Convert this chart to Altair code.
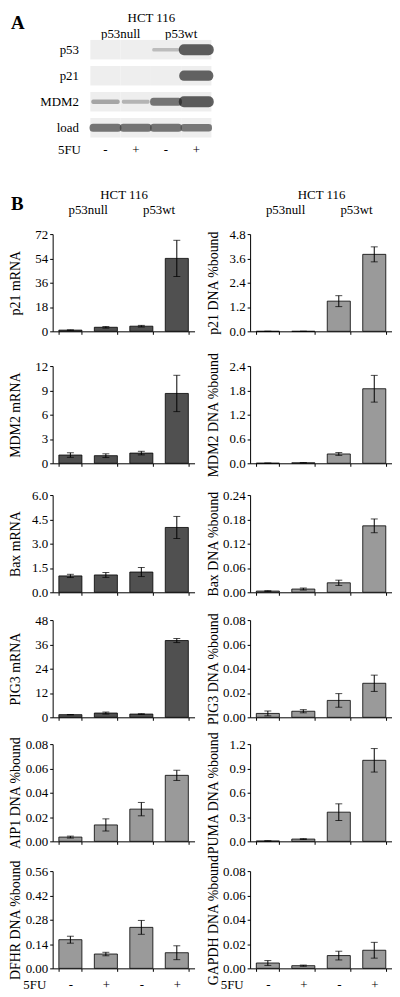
import altair as alt
import pandas as pd

FONT = "Liberation Serif"

# ---------------- Panel A (western blot) ----------------
lanes = ["p53null -", "p53null +", "p53wt -", "p53wt +"]
groups = ["p53null", "p53wt"]
blot_rows = ["p53", "p21", "MDM2", "load"]
p53_band = [0.0, 0.0, 0.25, 0.95]
p21_band = [0.0, 0.0, 0.0, 0.9]
mdm2_band = [0.4, 0.3, 0.75, 0.95]
load_band = [0.75, 0.75, 0.75, 0.72]

# ---------------- Panel B (bar charts) ----------------
p21_mrna = [0.9, 3.0, 3.8, 54.0]
p21_mrna_err = [0.2, 0.6, 0.6, 13.4]
p21_dna = [0.0, 0.0, 1.49, 3.80]
p21_dna_err = [0.0, 0.0, 0.27, 0.37]
mdm2_mrna = [1.02, 0.94, 1.26, 8.62]
mdm2_mrna_err = [0.28, 0.23, 0.22, 2.24]
mdm2_dna = [0.003, 0.012, 0.23, 1.84]
mdm2_dna_err = [0.001, 0.004, 0.035, 0.33]
bax_mrna = [1.01, 1.07, 1.25, 4.0]
bax_mrna_err = [0.10, 0.15, 0.28, 0.68]
bax_dna = [0.003, 0.008, 0.0234, 0.164]
bax_dna_err = [0.001, 0.0025, 0.0065, 0.017]
pig3_mrna = [1.3, 2.1, 1.6, 37.9]
pig3_mrna_err = [0.1, 0.5, 0.2, 1.0]
pig3_dna = [0.0032, 0.005, 0.0139, 0.028]
pig3_dna_err = [0.002, 0.0013, 0.0056, 0.0067]
aip1_dna = [0.0035, 0.0135, 0.0265, 0.0543]
aip1_dna_err = [0.0008, 0.005, 0.0055, 0.0042]
puma_dna = [0.005, 0.028, 0.36, 1.0]
puma_dna_err = [0.002, 0.005, 0.103, 0.145]
dfhr_dna = [0.165, 0.0825, 0.236, 0.09]
dfhr_dna_err = [0.02, 0.01, 0.04, 0.04]
gapdh_dna = [0.0044, 0.0022, 0.0105, 0.0149]
gapdh_dna_err = [0.002, 0.0005, 0.0036, 0.0065]

ticks_p21_mrna = [0, 18, 36, 54, 72]
ticks_p21_dna = [0, 1.2, 2.4, 3.6, 4.8]
ticks_mdm2_mrna = [0, 3, 6, 9, 12]
ticks_mdm2_dna = [0, 0.6, 1.2, 1.8, 2.4]
ticks_bax_mrna = [0, 1.5, 3.0, 4.5, 6.0]
ticks_bax_dna = [0, 0.06, 0.12, 0.18, 0.24]
ticks_pig3_mrna = [0, 12, 24, 36, 48]
ticks_small = [0, 0.02, 0.04, 0.06, 0.08]
ticks_puma = [0, 0.3, 0.6, 0.9, 1.2]
ticks_dfhr = [0, 0.14, 0.28, 0.42, 0.56]

DARK = "#505050"
LIGHT = "#9a9a9a"
W = 143
H = 98
ROW_EXTRA = [8, 5, 1, 0, 3, 0]   # extra blank space below each row of plots

panels = [
    ("p21 mRNA", p21_mrna, p21_mrna_err, ticks_p21_mrna, "d", DARK),
    ("p21 DNA %bound", p21_dna, p21_dna_err, ticks_p21_dna, ".1f", LIGHT),
    ("MDM2 mRNA", mdm2_mrna, mdm2_mrna_err, ticks_mdm2_mrna, "d", DARK),
    ("MDM2 DNA %bound", mdm2_dna, mdm2_dna_err, ticks_mdm2_dna, ".1f", LIGHT),
    ("Bax mRNA", bax_mrna, bax_mrna_err, ticks_bax_mrna, ".1f", DARK),
    ("Bax DNA %bound", bax_dna, bax_dna_err, ticks_bax_dna, ".2f", LIGHT),
    ("PIG3 mRNA", pig3_mrna, pig3_mrna_err, ticks_pig3_mrna, "d", DARK),
    ("PIG3 DNA %bound", pig3_dna, pig3_dna_err, ticks_small, ".2f", LIGHT),
    ("AIP1 DNA %bound", aip1_dna, aip1_dna_err, ticks_small, ".2f", LIGHT),
    ("PUMA DNA %bound", puma_dna, puma_dna_err, ticks_puma, ".1f", LIGHT),
    ("DFHR DNA %bound", dfhr_dna, dfhr_dna_err, ticks_dfhr, ".2f", LIGHT),
    ("GAPDH DNA %bound", gapdh_dna, gapdh_dna_err, ticks_small, ".2f", LIGHT),
]

LABEL_EXPR = "split(datum.label, ' ')[1]"


def header_layer(rng=None):
    sc = dict(type="band", domain=groups, paddingInner=0, paddingOuter=0)
    if rng is not None:
        sc["range"] = rng
    return alt.Chart(pd.DataFrame({"g": groups})).mark_text(opacity=0).encode(
        x=alt.X("g:N", scale=alt.Scale(**sc),
                axis=alt.Axis(orient="top", title="HCT 116", domain=False, ticks=False,
                              labelPadding=-2 if rng is not None else 18,
                              titlePadding=3 if rng is not None else 2,
                              labelFontSize=13, titleFontSize=13, labelAngle=0)),
        text="g:N",
    )


def bar_panel(idx):
    title, vals, errs, ticks, fmt, color = panels[idx]
    row = idx // 2
    extra = ROW_EXTRA[row]
    first = idx < 2
    last = idx >= 10
    df = pd.DataFrame({"cond": lanes, "v": vals, "e": errs})
    df["lo"] = (df["v"] - df["e"]).clip(lower=0)
    df["hi"] = df["v"] + df["e"]

    axis_kw = dict(tickBand="extent", tickSize=3, labels=last, labelAngle=0,
                   labelExpr=LABEL_EXPR, labelPadding=7, labelFontSize=13)
    if extra:
        axis_kw["offset"] = -extra
    if last:
        axis_kw.update(title="5FU", titleX=-7, titleY=10, titleAlign="right",
                       titleBaseline="top", titleAngle=0, titleFontSize=13)
    else:
        axis_kw.update(title=None)
    x = alt.X("cond:N", sort=lanes,
              scale=alt.Scale(domain=lanes, paddingInner=0.35, paddingOuter=0.175),
              axis=alt.Axis(**axis_kw))
    yscale = alt.Scale(domain=[0, ticks[-1]], nice=False, zero=True, range=[H, 0])
    yaxis = alt.Axis(values=ticks, format=fmt, tickSize=3, labelPadding=2,
                     labelOverlap=False, labelFontSize=13, titleFontSize=14,
                     minExtent=28, maxExtent=28, titlePadding=2)
    base = alt.Chart(df)
    bars = base.mark_bar(color=color, stroke="black", strokeWidth=0.8).encode(
        x=x, y=alt.Y("v:Q", title=title, scale=yscale, axis=yaxis))
    rule = base.mark_rule(color="black", strokeWidth=1).encode(
        x=x, y=alt.Y("lo:Q", title=title, scale=yscale, axis=yaxis), y2="hi:Q")
    cap_lo = base.mark_tick(color="black", orient="horizontal", size=7, thickness=1).encode(
        x=x, y=alt.Y("lo:Q", title=title, scale=yscale, axis=yaxis))
    cap_hi = base.mark_tick(color="black", orient="horizontal", size=7, thickness=1).encode(
        x=x, y=alt.Y("hi:Q", title=title, scale=yscale, axis=yaxis))
    ch = alt.layer(bars, rule, cap_lo, cap_hi)
    props = dict(width=W, height=H + extra)
    if idx == 0:
        props["title"] = alt.TitleParams("B", anchor="start", frame="group", dx=-42, dy=26,
                                         fontSize=19, fontWeight="bold", font=FONT, offset=0)
    if first:
        ch = alt.layer(ch, header_layer()).resolve_scale(x="independent")
    return ch.properties(**props)


# Panel A chart
blot_df = pd.DataFrame([
    {"row": r, "lane": l, "v": v}
    for r, vals in zip(blot_rows, [p53_band, p21_band, mdm2_band, load_band])
    for l, v in zip(lanes, vals)
])
A_H = 170
BLOT_H = 101
lane_x = alt.X("lane:N", sort=lanes,
               scale=alt.Scale(type="band", domain=lanes, range=[38, 160], paddingInner=0, paddingOuter=0),
               axis=alt.Axis(orient="bottom", offset=-(A_H - BLOT_H), domain=False, ticks=False,
                             labelPadding=5, labelExpr=LABEL_EXPR, labelAngle=0, labelFontSize=13,
                             title="5FU", titleX=28, titleY=5, titleAlign="right", titleBaseline="top",
                             titleAngle=0, titleFontSize=13))
row_y = alt.Y("row:N", sort=blot_rows,
              scale=alt.Scale(type="band", domain=blot_rows, range=[0, BLOT_H], paddingInner=0.25, paddingOuter=0.05),
              axis=alt.Axis(title=None, domain=False, ticks=False, labelPadding=0, offset=-26,
                            labelFontSize=13))
shade = alt.Scale(domain=[0, 1], range=["#e0e0e0", "#151515"])
strip = alt.Chart(blot_df).mark_rect(color="#eeeeee").encode(x=lane_x, y=row_y)
bands = alt.Chart(blot_df).transform_filter("datum.v > 0").transform_calculate(
    w="2 + 9 * datum.v * datum.v"
).mark_tick(orient="horizontal", size=25, thickness=1, strokeJoin="round").encode(
    x=lane_x, y=row_y,
    color=alt.Color("v:Q", scale=shade, legend=None),
    stroke=alt.Stroke("v:Q", scale=shade, legend=None),
    strokeWidth=alt.StrokeWidth("w:Q", scale=None, legend=None),
)
panelA = alt.layer(alt.layer(strip, bands), header_layer([38, 160])).resolve_scale(x="independent").properties(
    width=W, height=A_H,
    title=alt.TitleParams("A", anchor="start", frame="group", dx=-42, dy=21,
                          fontSize=19, fontWeight="bold", font=FONT, offset=0),
)

empty = alt.Chart(pd.DataFrame({"g": groups})).mark_point(opacity=0).encode(
    x=alt.X("g:N", axis=None), y=alt.Y("g:N", axis=None)
).properties(width=W, height=A_H)

cells = [panelA, empty] + [bar_panel(i) for i in range(len(panels))]

chart = alt.concat(
    *cells, columns=2, spacing=alt.RowColnumber(row=27, column=56), bounds="flush"
).properties(padding=0).configure_axis(
    labelFont=FONT, titleFont=FONT, labelColor="black", titleColor="black",
    domainColor="black", tickColor="black", titleFontWeight="normal", grid=False,
    labelFontSize=13, titleFontSize=13,
).configure_view(strokeWidth=0).configure_title(font=FONT, color="black")

chart.save("out.html", embed_options={"renderer": "svg", "actions": False})
